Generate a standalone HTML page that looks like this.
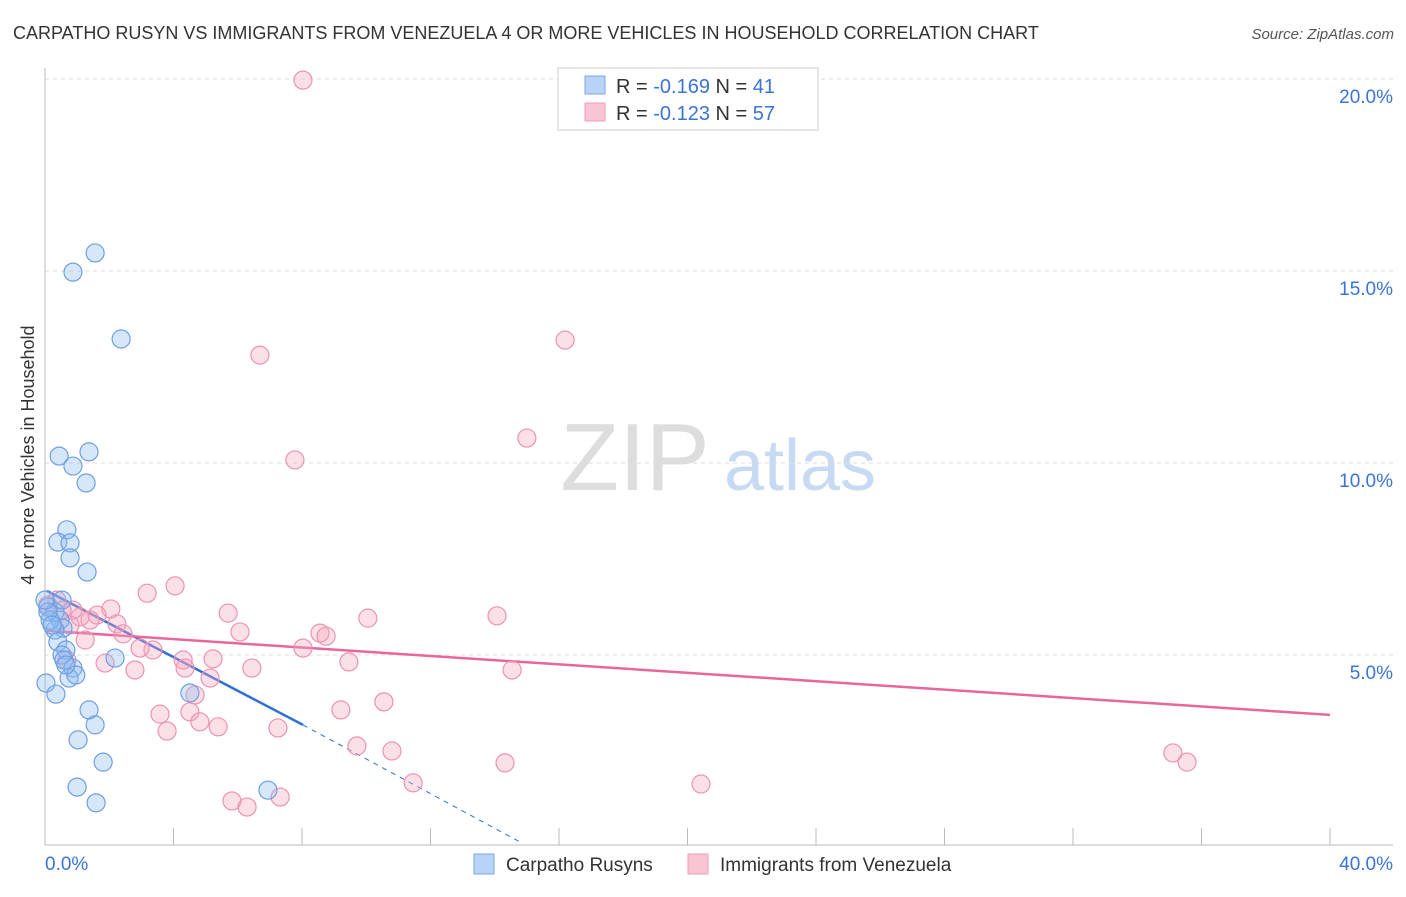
<!DOCTYPE html>
<html><head><meta charset="utf-8"><style>
body{margin:0;background:#fff;font-family:"Liberation Sans",sans-serif}
svg text{font-family:"Liberation Sans",sans-serif}
</style></head><body>
<svg id="chart" width="1406" height="892" viewBox="0 0 1406 892" xmlns="http://www.w3.org/2000/svg">
<text x="13" y="39" font-size="18" fill="#333">CARPATHO RUSYN VS IMMIGRANTS FROM VENEZUELA 4 OR MORE VEHICLES IN HOUSEHOLD CORRELATION CHART</text>
<text x="1394" y="39" font-size="15" fill="#555" text-anchor="end" font-style="italic">Source: ZipAtlas.com</text>
<text transform="translate(34,455) rotate(-90)" font-size="18" fill="#333" text-anchor="middle">4 or more Vehicles in Household</text>
<g>
<text x="635" y="490" font-size="96" fill="#ddd" font-family="Liberation Serif" text-anchor="middle">ZIP</text>
<text x="800" y="490" font-size="72" fill="#c7daf3" text-anchor="middle">atlas</text>
</g>
<g id="grid"></g><g id="axes"></g><g id="trend"></g><g id="pts"></g>
<g>
<rect x="558" y="68" width="260" height="62" fill="#fff" stroke="#ccc"/>
<rect x="585" y="76" width="20" height="18" fill="#b8d3f6" stroke="#7aa9e6"/>
<text x="616" y="93" font-size="20" fill="#333">R = <tspan fill="#3a74d6">-0.169</tspan>   N = <tspan fill="#3a74d6">41</tspan></text>
<rect x="585" y="103" width="20" height="18" fill="#f9c5d5" stroke="#ef9bb5"/>
<text x="616" y="120" font-size="20" fill="#333">R = <tspan fill="#3a74d6">-0.123</tspan>   N = <tspan fill="#3a74d6">57</tspan></text>
</g>
<g>
<rect x="474" y="854" width="20" height="20" fill="#b8d3f6" stroke="#7aa9e6"/>
<text x="506" y="871" font-size="19" fill="#333">Carpatho Rusyns</text>
<rect x="688" y="854" width="20" height="20" fill="#f9c5d5" stroke="#ef9bb5"/>
<text x="720" y="871" font-size="19" fill="#333">Immigrants from Venezuela</text>
</g>
</svg>
<script>
const blueX=[1.56,0.87,2.37,0.44,1.37,0.87,1.28,0.68,0.40,0.78,0.78,1.31,0.09,0.31,0.47,0.56,0.31,0.40,0.65,0.53,0.59,0.87,2.18,0.03,0.75,0.96,0.34,4.51,1.37,1.56,1.03,1.81,1.00,1.59,6.94,0.16,0.09,0.65,0.53,0.22,0.0];
const blueY=[15.47,14.97,13.23,10.18,10.29,9.92,9.48,8.26,7.94,7.92,7.53,7.16,6.25,6.12,5.91,5.70,5.65,5.34,5.13,5.00,4.87,4.66,4.92,4.27,4.40,4.48,3.98,4.01,3.57,3.18,2.79,2.21,1.56,1.15,1.48,5.91,6.12,4.74,6.43,5.78,6.43];
const pinkX=[8.03,6.69,16.19,15.00,7.78,3.18,4.05,5.70,2.05,1.62,1.09,1.40,0.87,2.24,2.43,6.07,3.36,2.96,4.30,5.23,1.87,2.80,4.36,6.44,5.14,10.05,8.56,8.75,8.03,9.46,14.07,14.54,4.67,3.58,4.51,4.82,5.39,3.80,7.25,9.21,10.55,9.71,10.80,11.46,14.32,20.42,5.82,6.29,7.32,35.11,35.55,0.37,0.53,0.09,0.78,1.25,0.68];
const pinkY=[19.97,12.81,13.20,10.65,10.08,6.61,6.80,6.09,6.20,6.04,5.99,5.91,6.17,5.81,5.55,5.60,5.13,5.18,4.87,4.90,4.79,4.61,4.66,4.66,4.40,5.96,5.57,5.49,5.18,4.82,6.02,4.61,3.96,3.46,3.52,3.26,3.13,3.02,3.10,3.57,3.78,2.63,2.50,1.67,2.19,1.64,1.20,1.04,1.30,2.45,2.21,6.43,6.17,6.30,5.78,5.39,4.87];
const blueTrend=[[0.06,6.67],[8.03,3.18],[14.79,0.13]];
const pinkTrend=[[0.06,5.63],[40,3.44]];
const yTicks=[5,10,15,20];
const xTickVals=[0,4,8,12,16,20,24,28,32,36,40];
const NS="http://www.w3.org/2000/svg";
const sx=v=>45+v*32.125, sy=v=>847-v*38.4;
function mk(parent,tag,attrs){const e=document.createElementNS(NS,tag);for(const k in attrs)e.setAttribute(k,attrs[k]);document.getElementById(parent).appendChild(e);return e;}
yTicks.forEach(t=>{
 const l=mk('grid','line',{x1:45,x2:1393,y1:sy(t),y2:sy(t),stroke:'#ddd','stroke-dasharray':'4,4'});
 
 
 const tx=mk('grid','text',{x:1393,y:sy(t)+24,'font-size':19,fill:'#3a74d6','text-anchor':'end'});
 tx.textContent=t.toFixed(1)+'%';
 
 
});
const ax=mk('axes','line',{x1:45,x2:1393,y1:845,y2:845,stroke:'#bbb'});


const ay=mk('axes','line',{x1:45,x2:45,y1:68,y2:845,stroke:'#bbb'});


xTickVals.forEach(t=>{
 const l=mk('axes','line',{x1:sx(t),x2:sx(t),y1:828,y2:845,stroke:'#bbb'});
 
 
});
[[0,'start'],[40,'end']].forEach(([t,a])=>{
 const tx=mk('axes','text',{x:t==0?45:1393,y:870,'font-size':19,fill:'#3a74d6','text-anchor':a});
 tx.textContent=t.toFixed(1)+'%';
 
 
});
function dots(xs,ys,fill,stroke,name){xs.forEach((x,i)=>{
 const c=mk('pts','circle',{cx:sx(x),cy:sy(ys[i]),r:9,fill:fill,stroke:stroke,'stroke-width':1.2});
 
 
});}
dots(pinkX,pinkY,'rgba(245,165,190,0.35)','#ec93b0','point-venezuela');
dots(blueX,blueY,'rgba(140,185,240,0.35)','#6d9fe3','point-carpatho');
const b1=mk('trend','line',{x1:sx(blueTrend[0][0]),y1:sy(blueTrend[0][1]),x2:sx(blueTrend[1][0]),y2:sy(blueTrend[1][1]),stroke:'#2f6fd6','stroke-width':2.5});


const b2=mk('trend','line',{x1:sx(blueTrend[1][0]),y1:sy(blueTrend[1][1]),x2:sx(blueTrend[2][0]),y2:sy(blueTrend[2][1]),stroke:'#2f6fd6','stroke-width':1,'stroke-dasharray':'5,5'});


const p1=mk('trend','line',{x1:sx(pinkTrend[0][0]),y1:sy(pinkTrend[0][1]),x2:sx(pinkTrend[1][0]),y2:sy(pinkTrend[1][1]),stroke:'#e8669a','stroke-width':2.5});


</script>
</body></html>
